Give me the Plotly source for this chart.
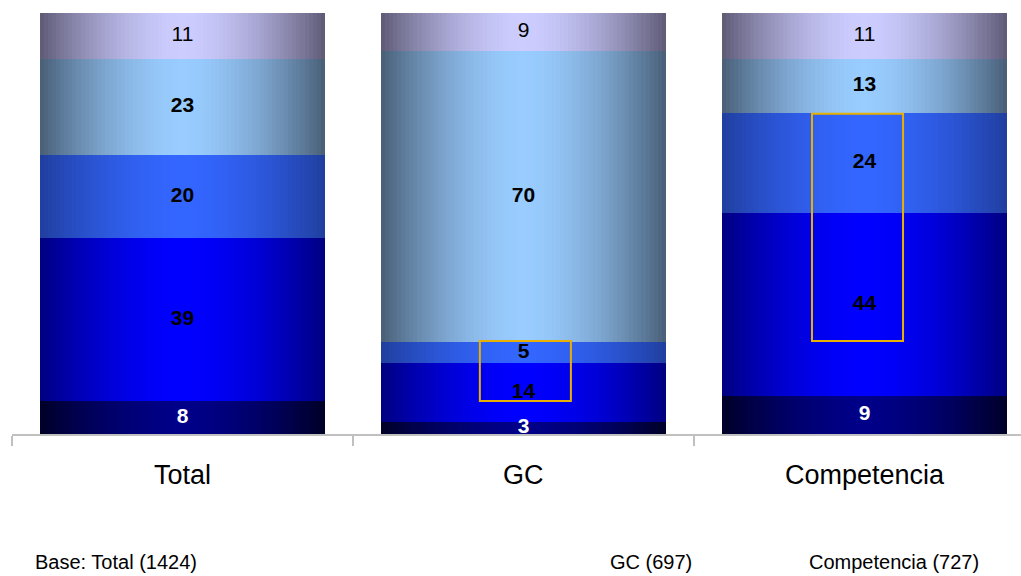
import numpy as np
import plotly.graph_objects as go

# Share of respondents per group, stacked bottom to top
categories = ["Total", "GC", "Competencia"]
seg_names = ["s1", "s2", "s3", "s4", "s5"]
values = {
    "s1": [8, 3, 9],
    "s2": [39, 14, 44],
    "s3": [20, 5, 24],
    "s4": [23, 70, 13],
    "s5": [11, 9, 11],
}
base_notes = ["Base: Total (1424)", "GC (697)", "Competencia (727)"]

# Cylinder shading: (edge colour, centre colour) for each segment
shades = {
    "s1": ((0, 0, 38), (0, 0, 136)),
    "s2": ((0, 0, 128), (0, 0, 255)),
    "s3": ((32, 62, 158), (51, 102, 255)),
    "s4": ((72, 94, 118), (153, 204, 255)),
    "s5": ((94, 90, 118), (204, 204, 255)),
}
label_style = {
    "s1": ("white", True),
    "s2": ("black", True),
    "s3": ("black", True),
    "s4": ("black", True),
    "s5": ("black", False),
}

BAR_W = 0.836
N_STRIPES = 70
stripe_w = BAR_W / N_STRIPES
offsets = (np.arange(N_STRIPES) + 0.5) * stripe_w - BAR_W / 2
t = np.abs(offsets) / (BAR_W / 2)
mix = t ** 1.7


def stripe_colors(edge, centre):
    e = np.array(edge, float)
    c = np.array(centre, float)
    out = []
    for m in mix:
        r, g, b = c + (e - c) * m
        out.append(f"rgb({r:.0f},{g:.0f},{b:.0f})")
    return out


fig = go.Figure()
cat_pos = np.arange(len(categories))

for name in seg_names:
    xs, ys, cols = [], [], []
    colors = stripe_colors(*shades[name])
    for i, v in enumerate(values[name]):
        xs.extend(cat_pos[i] + offsets)
        ys.extend([v] * N_STRIPES)
        cols.extend(colors)
    fig.add_trace(go.Bar(
        x=xs, y=ys, width=stripe_w * 1.08,
        marker=dict(color=cols, line=dict(width=0)),
        hoverinfo="skip", showlegend=False,
    ))

# Value labels at the centre of each segment
cum = np.zeros(len(categories))
for name in seg_names:
    v = np.array(values[name], float)
    mids = cum + v / 2
    cum = cum + v
    color, bold = label_style[name]
    txt = [f"<b>{int(x)}</b>" if bold else str(int(x)) for x in v]
    fig.add_trace(go.Scatter(
        x=cat_pos, y=mids, mode="text", text=txt,
        textfont=dict(family="Arial, Liberation Sans", size=21, color=color),
        hoverinfo="skip", showlegend=False, cliponaxis=False,
    ))

# Highlight boxes
gc_top = values["s1"][1] + values["s2"][1] + values["s3"][1]
comp_top = values["s1"][2] + values["s2"][2] + values["s3"][2]
box = dict(type="rect", xref="x", yref="y", line=dict(color="#e8b000", width=2),
           fillcolor="rgba(0,0,0,0)", layer="above")
fig.add_shape(x0=1 - 0.128, x1=1 + 0.139, y0=7.9, y1=gc_top + 0.3, **box)
fig.add_shape(x0=2 - 0.154, x1=2 + 0.113, y0=22.3, y1=comp_top - 0.2, **box)

# Category names under the axis
for i, c in enumerate(categories):
    fig.add_annotation(x=i, y=-0.097, xref="x", yref="paper", text=c,
                       showarrow=False, yanchor="middle",
                       font=dict(family="Arial, Liberation Sans", size=27, color="black"))

# Sample size notes
for x, note in zip([0.0208, 0.5907, 0.788], base_notes):
    fig.add_annotation(x=x, y=-0.305, xref="paper", yref="paper", text=note,
                       showarrow=False, xanchor="left", yanchor="middle",
                       font=dict(family="Arial, Liberation Sans", size=20, color="black"))

fig.update_layout(
    width=1021, height=576,
    margin=dict(l=12, r=0, t=13, b=142),
    barmode="stack",
    plot_bgcolor="white", paper_bgcolor="white",
    xaxis=dict(range=[-0.5, 2.5 - 14 / 341], showgrid=False, zeroline=False,
               showline=True, linecolor="#c0c0c0", linewidth=2,
               ticks="outside", ticklen=10, tickcolor="#c0c0c0", tickwidth=2,
               tickvals=[-0.5, 0.5, 1.5], showticklabels=False),
    yaxis=dict(range=[0, 101], visible=False),
)

fig.write_html("out.html")
